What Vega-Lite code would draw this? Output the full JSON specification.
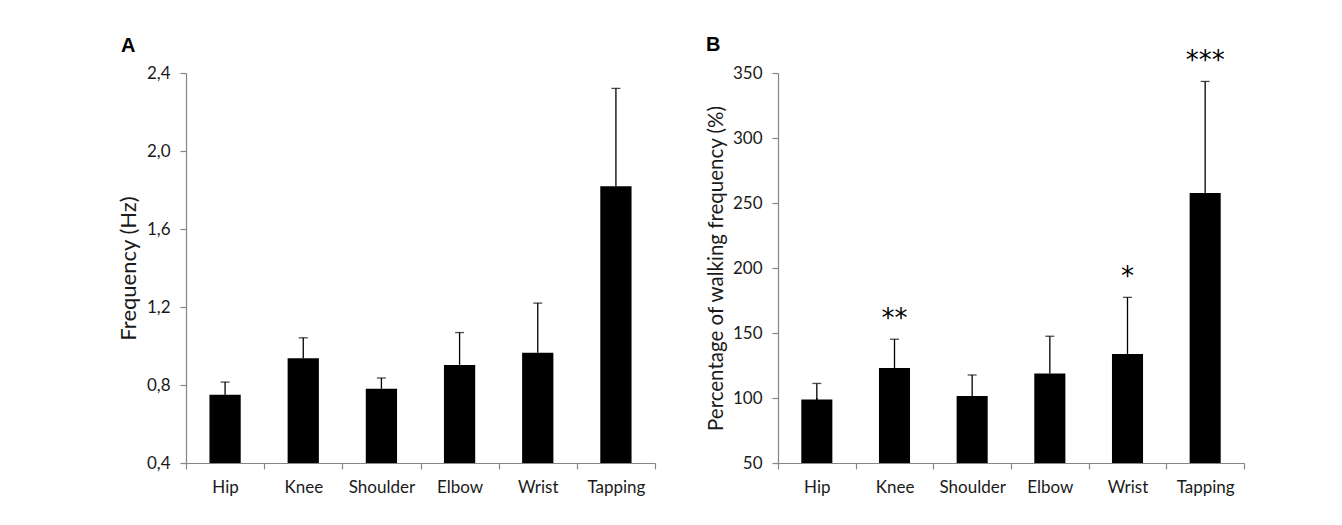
{
  "$schema": "https://vega.github.io/schema/vega-lite/v6.json",
  "padding": {"left": 117, "top": 35, "right": 5, "bottom": 5},
  "background": "white",
  "spacing": 50,
  "config": {
    "view": {"stroke": null},
    "font": "Lato",
    "axis": {
      "domainColor": "#868686", "tickColor": "#868686",
      "labelColor": "#1a1a1a", "titleColor": "#1a1a1a",
      "labelFont": "Lato", "titleFont": "Lato",
      "labelFontSize": 17, "titleFontSize": 20, "titleFontWeight": "normal",
      "grid": false, "domainWidth": 1.2, "tickWidth": 1.2
    },
    "axisY": {"tickSize": 6, "labelPadding": 10, "titlePadding": 6},
    "axisX": {"tickSize": 6, "labelPadding": 10, "labelAngle": 0, "tickBand": "extent"}
  },
  "hconcat": [
    {
      "width": 469, "height": 390,
      "title": {"text": "A", "anchor": "start", "frame": "group", "dx": -65, "dy": 27, "offset": 19, "baseline": "alphabetic", "font": "Liberation Sans", "fontSize": 20, "fontWeight": "bold", "color": "#000"},
      "data": {"values": [
        {"joint": "Hip", "freq": 0.75, "upper": 0.815},
        {"joint": "Knee", "freq": 0.937, "upper": 1.042},
        {"joint": "Shoulder", "freq": 0.781, "upper": 0.836},
        {"joint": "Elbow", "freq": 0.903, "upper": 1.069},
        {"joint": "Wrist", "freq": 0.966, "upper": 1.22},
        {"joint": "Tapping", "freq": 1.819, "upper": 2.321}
      ]},
      "encoding": {
        "x": {"field": "joint", "type": "nominal", "sort": null, "scale": {"paddingInner": 0, "paddingOuter": 0}, "axis": {"title": null}}
      },
      "layer": [
        {
          "mark": {"type": "bar", "color": "black", "width": {"band": 0.4}},
          "encoding": {
            "y": {"field": "freq", "type": "quantitative",
              "scale": {"domain": [0.4, 2.4], "nice": false, "zero": false},
              "axis": {"title": "Frequency (Hz)", "titleFontSize": 22, "values": [0.4, 0.8, 1.2, 1.6, 2.0, 2.4], "labelExpr": "replace(format(datum.value, '.1f'), '.', ',')"}},
            "y2": {"datum": 0.4}
          }
        },
        {
          "mark": {"type": "rule", "color": "black", "strokeWidth": 1.3},
          "encoding": {"y": {"field": "freq", "type": "quantitative"}, "y2": {"field": "upper"}}
        },
        {
          "mark": {"type": "tick", "color": "black", "size": 9, "thickness": 1.3},
          "encoding": {"y": {"field": "upper", "type": "quantitative"}}
        }
      ]
    },
    {
      "width": 466, "height": 390,
      "title": {"text": "B", "anchor": "start", "frame": "group", "dx": -72, "dy": 42, "offset": 19, "baseline": "alphabetic", "font": "Liberation Sans", "fontSize": 20, "fontWeight": "bold", "color": "#000"},
      "data": {"values": [
        {"joint": "Hip", "pct": 98.9, "upper": 111.2, "sig": ""},
        {"joint": "Knee", "pct": 123.1, "upper": 145.2, "sig": "**"},
        {"joint": "Shoulder", "pct": 101.5, "upper": 117.7, "sig": ""},
        {"joint": "Elbow", "pct": 118.9, "upper": 147.5, "sig": ""},
        {"joint": "Wrist", "pct": 133.9, "upper": 177.4, "sig": "*"},
        {"joint": "Tapping", "pct": 257.6, "upper": 343.5, "sig": "***"}
      ]},
      "encoding": {
        "x": {"field": "joint", "type": "nominal", "sort": null, "scale": {"paddingInner": 0, "paddingOuter": 0}, "axis": {"title": null}}
      },
      "layer": [
        {
          "mark": {"type": "bar", "color": "black", "width": {"band": 0.4}},
          "encoding": {
            "y": {"field": "pct", "type": "quantitative",
              "scale": {"domain": [50, 350], "nice": false, "zero": false},
              "axis": {"title": "Percentage of walking frequency (%)", "titleFontSize": 20.5, "values": [50, 100, 150, 200, 250, 300, 350]}},
            "y2": {"datum": 50}
          }
        },
        {
          "mark": {"type": "rule", "color": "black", "strokeWidth": 1.3},
          "encoding": {"y": {"field": "pct", "type": "quantitative"}, "y2": {"field": "upper"}}
        },
        {
          "mark": {"type": "tick", "color": "black", "size": 9, "thickness": 1.3},
          "encoding": {"y": {"field": "upper", "type": "quantitative"}}
        },
        {
          "mark": {"type": "rule", "color": "black", "strokeWidth": 1.5},
          "encoding": {"y": {"datum": 100}}
        },
        {
          "transform": [{"filter": "datum.sig != ''"}],
          "mark": {"type": "text", "font": "DejaVu Sans", "fontSize": 26, "baseline": "alphabetic", "dy": -12, "color": "black"},
          "encoding": {"y": {"field": "upper", "type": "quantitative"}, "text": {"field": "sig"}}
        }
      ]
    }
  ]
}
